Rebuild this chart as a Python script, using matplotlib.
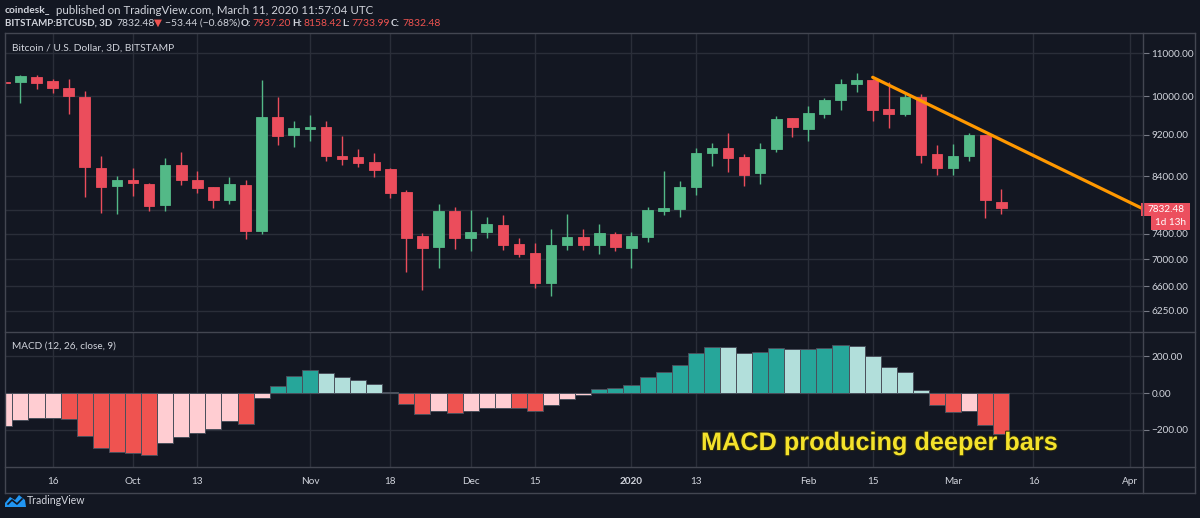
import numpy as np
import matplotlib
matplotlib.use("Agg")
import matplotlib.pyplot as plt
from matplotlib.lines import Line2D
from matplotlib.patches import Rectangle, Polygon
from matplotlib import patheffects as pe

# 3D candles, BITSTAMP:BTCUSD, Sep 2019 - Mar 2020 (index 0 = leftmost, partly cut)
opens = [10330, 10333, 10432, 10342, 10187, 9995, 8555, 8210, 8335, 8263,
         7879, 8611, 8335, 8192, 7977, 8234, 7441, 9565, 9190, 9311,
         9346, 8780, 8750, 8662, 8531, 8111, 7360, 7191, 7783, 7340,
         7424, 7539, 7234, 7098, 6644, 7218, 7345, 7218, 7398, 7176,
         7349, 7783, 7822, 8199, 8832, 8933, 8750, 8456, 8909, 9535,
         9311, 9626, 9916, 10282, 10379, 9738, 9626, 9995, 8807, 8544,
         8770, 9184, 7937.20]
highs = [10360, 10492, 10478, 10395, 10395, 10111, 8770, 8408, 8555, 8270,
         8737, 8846, 8494, 8195, 8385, 8335, 10372, 9980, 9468, 9607,
         9474, 9164, 8909, 8827, 8549, 8139, 7414, 7903, 7851, 7805,
         7675, 7709, 7340, 7250, 7474, 7726, 7474, 7560, 7424, 7424,
         7851, 8494, 8311, 8933, 9039, 9224, 8807, 9025, 9586, 9540,
         9796, 9973, 10400, 10522, 10400, 10327, 10046, 10046, 9000, 9006,
         9224, 9200, 8158.42]
lows = [10290, 9859, 10156, 10068, 9613, 8023, 7738, 7726, 8046, 7783,
        7783, 8240, 8099, 7834, 7896, 7313, 7404, 8992, 8961, 9071,
        8674, 8600, 8568, 8385, 8010, 6803, 6537, 6871, 7161, 7120,
        7329, 7145, 7033, 6566, 6452, 7141, 7141, 7084, 7130, 6871,
        7276, 7716, 7675, 8051, 8592, 8481, 8227, 8263, 8846, 9150,
        9071, 9535, 9703, 10089, 9468, 9330, 9577, 8637, 8426, 8426,
        8674, 7658, 7733.99]
closes = [10310, 10455, 10298, 10178, 10002, 8563, 8199, 8324, 8271, 7868,
          8611, 8324, 8182, 7977, 8253, 7452, 9565, 9170, 9325, 9346,
          8780, 8718, 8643, 8512, 8099, 7340, 7175, 7783, 7329, 7424,
          7555, 7229, 7084, 6644, 7218, 7345, 7218, 7414, 7187, 7360,
          7793, 7834, 8199, 8838, 8933, 8743, 8426, 8921, 9522, 9350,
          9639, 9924, 10288, 10379, 9712, 9613, 9995, 8799, 8544, 8780,
          9184, 7964, 7832.48]

# MACD (12, 26, close, 9) histogram
macd_hist = [-178, -150, -138, -137, -141, -233, -301, -325, -330, -338,
             -275, -242, -217, -198, -154, -167, -28, 39, 95, 127,
             110, 90, 73, 51, 7, -62, -114, -97, -110, -101,
             -82, -80, -83, -101, -68, -33, -11, 20, 29, 46,
             90, 117, 156, 217, 251, 250, 217, 222, 248, 242,
             243, 248, 261, 260, 200, 143, 117, 17, -66, -106,
             -101, -176, -224]

# trendline anchors (bar index, price)
trend_x = [54, 61]
trend_p = [10430, 9250]

price_ticks = [6250, 6600, 7000, 7400, 7800, 8400, 9200, 10000, 11000]
price_labels = ["6250.00", "6600.00", "7000.00", "7400.00", "",
                "8400.00", "9200.00", "10000.00", "11000.00"]
macd_ticks = [-200, 0, 200]
macd_labels = ["\u2212200.00", "0.00", "200.00"]
date_ticks = [3, 8, 12, 19, 24, 29, 33, 39, 43, 50, 54, 59, 64, 70]
date_labels = ["16", "Oct", "13", "Nov", "18", "Dec", "15", "2020", "13",
               "Feb", "15", "Mar", "16", "Apr"]

W, H = 1200, 518
BG = "#131722"
GRID = "#2a2e39"
FRAME = "#434651"
TXT = "#d1d4dc"
UP = "#53b987"
DOWN = "#eb4d5c"
RED = "#ef5350"
UI = ["Lato", "DejaVu Sans"]

plt.rcParams["font.family"] = UI


def fx(x):
    return x / W


def fy(y):
    return 1 - y / H


fig = plt.figure(figsize=(12, 5.18), dpi=100, facecolor=BG)
ax = fig.add_axes([fx(5), fy(331), (1143 - 5) / W, (331 - 33) / H])
axm = fig.add_axes([fx(5), fy(467), (1143 - 5) / W, (467 - 332) / H], sharex=ax)

for a in (ax, axm):
    a.set_facecolor(BG)
    for s in a.spines.values():
        s.set_visible(False)
    a.grid(True, color=GRID, linewidth=1)
    a.set_axisbelow(True)
    a.yaxis.tick_right()

# ---- candles
x = np.arange(len(closes))
o = np.array(opens)
c = np.array(closes)
colors = [UP if cc >= oo else DOWN for oo, cc in zip(o, c)]
ax.vlines(x, lows, highs, colors=colors, linewidth=1, zorder=2)
ax.bar(x, np.abs(c - o), bottom=np.minimum(o, c), width=0.66, color=colors,
       edgecolor=colors, linewidth=0.6, zorder=3)

# trendline, extended to the right edge
slope = (np.log(trend_p[1]) - np.log(trend_p[0])) / (trend_x[1] - trend_x[0])
tx = np.array([trend_x[0], 72])
ax.plot(tx, np.exp(np.log(trend_p[0]) + slope * (tx - trend_x[0])),
        color="#ff9800", linewidth=2.3, solid_capstyle="round", zorder=4)

ax.set_yscale("log")
ax.set_ylim(5981, 11493)
ax.set_xlim(0.04, 70.81)
ax.yaxis.set_minor_locator(matplotlib.ticker.NullLocator())
ax.set_yticks(price_ticks)
ax.set_yticklabels(price_labels)
ax.tick_params(axis="y", length=4, color="#787b86", labelcolor=TXT,
               labelsize=7.2, pad=2)
ax.tick_params(axis="x", length=0, labelbottom=False)

# ---- MACD histogram
h = np.array(macd_hist)
prev = np.concatenate([[h[0]], h[:-1]])
hcol = []
for v, p in zip(h, prev):
    if v >= 0:
        hcol.append("#26a69a" if v >= p else "#b2dfdb")
    else:
        hcol.append("#ef5350" if v < p else "#ffcdd2")
axm.bar(x, h, width=1.0, color=hcol, edgecolor="#4a4f5b", linewidth=0.7,
        zorder=3)
axm.set_ylim(-405, 334)
axm.set_yticks(macd_ticks)
axm.set_yticklabels(macd_labels)
axm.tick_params(axis="y", length=4, color="#787b86", labelcolor=TXT,
                labelsize=7.2, pad=2)
axm.set_xticks(date_ticks)
axm.set_xticklabels(date_labels)
axm.tick_params(axis="x", length=0, labelcolor=TXT, labelsize=7.2, pad=7)
for lab in axm.get_xticklabels():
    if lab.get_text() == "2020":
        lab.set_fontweight("bold")

# ---- frame lines
for (x0, y0, x1, y1) in [(5, 33, 1195, 33), (5, 493, 1195, 493),
                         (5, 33, 5, 493), (1195, 33, 1195, 493),
                         (1143, 33, 1143, 493), (5, 331.5, 1195, 331.5),
                         (5, 467, 1195, 467)]:
    fig.add_artist(Line2D([fx(x0), fx(x1)], [fy(y0), fy(y1)],
                          color=FRAME, linewidth=1, transform=fig.transFigure))

# ---- header texts
fig.text(fx(5), fy(10), "coindesk_", color=TXT, fontsize=7.4,
         fontweight="bold", va="center", ha="left")
fig.text(fx(56), fy(10),
         "published on TradingView.com, March 11, 2020 11:57:04 UTC",
         color=TXT, fontsize=8.3, va="center", ha="left")

line2 = [(5, "BITSTAMP:BTCUSD, 3D", TXT, "bold", 7.0),
         (116, "7832.48", TXT, "normal", 7.5),
         (154, "\u25bc", RED, "normal", 7.5),
         (165, "\u221253.44 (\u22120.68%)", TXT, "normal", 7.5),
         (241, "O:", TXT, "bold", 7.0), (252, "7937.20", RED, "normal", 7.5),
         (292, "H:", TXT, "bold", 7.0), (303, "8158.42", RED, "normal", 7.5),
         (342, "L:", TXT, "bold", 7.0), (351, "7733.99", RED, "normal", 7.5),
         (391, "C:", TXT, "bold", 7.0), (402, "7832.48", RED, "normal", 7.5)]
for xx, s, col, wt, sz in line2:
    fig.text(fx(xx), fy(23), s, color=col, fontsize=sz, fontweight=wt,
             va="center", ha="left")

fig.text(fx(12), fy(48), "Bitcoin / U.S. Dollar, 3D, BITSTAMP", color=TXT,
         fontsize=7.4, va="center", ha="left")
fig.text(fx(12), fy(346), "MACD (12, 26, close, 9)", color=TXT,
         fontsize=7.2, va="center", ha="left")

# ---- last price labels
LBL = "#ec4f5e"
fig.add_artist(Rectangle((fx(1141), fy(215.5)), 49 / W, 13 / H, fc=LBL,
                         ec="none", transform=fig.transFigure))
fig.text(fx(1166), fy(209), f"{closes[-1]:.2f}", color="white", fontsize=7.2,
         ha="center", va="center")
fig.add_artist(Rectangle((fx(1151), fy(229.5)), 39 / W, 13.5 / H, fc=LBL,
                         ec="none", transform=fig.transFigure))
fig.text(fx(1170.5), fy(222.5), "1d 13h", color="white", fontsize=7.2,
         ha="center", va="center")

# ---- annotation
fig.text(fx(879), fy(443), "MACD producing deeper bars", color="#f4e22b",
         fontsize=18.2, fontweight="bold", family=["Liberation Sans"],
         ha="center", va="center",
         path_effects=[pe.withStroke(linewidth=1.5, foreground="#2b2a10")])

# ---- TradingView logo
fig.add_artist(Polygon([(fx(5), fy(507)), (fx(5), fy(503)), (fx(10), fy(497)),
                        (fx(15), fy(500)), (fx(19), fy(495)), (fx(25), fy(500)),
                        (fx(26), fy(507))], closed=True, fc="#2196f3",
                       ec="none", transform=fig.transFigure))
fig.add_artist(Line2D([fx(8), fx(12), fx(17), fx(22)],
                      [fy(504), fy(500), fy(504), fy(499)], color=BG,
                      linewidth=1.2, transform=fig.transFigure))
fig.text(fx(27), fy(501), "TradingView", color=TXT, fontsize=7.6,
         va="center", ha="left")

fig.savefig("out.png", dpi=100, facecolor=BG)
